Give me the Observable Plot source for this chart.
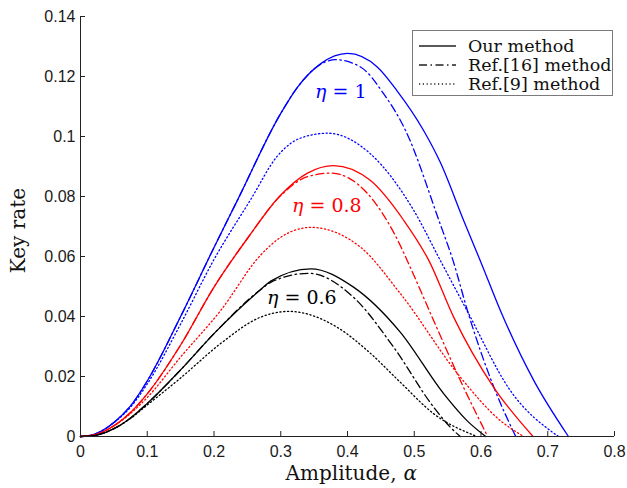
<!DOCTYPE html>
<html>
<head>
<meta charset="utf-8">
<script src="https://cdn.jsdelivr.net/npm/d3@7"></script>
<script src="https://cdn.jsdelivr.net/npm/@observablehq/plot@0.6"></script>
<style>
  body { margin: 0; background: #fff; }
  #wrap { position: relative; width: 627px; height: 488px; }
  #legend { position: absolute; left: 412px; top: 30px; width: 199px; height: 64px;
            border: 1px solid #7a7a7a; background: #fff;
            font-family: "DejaVu Serif", serif; font-size: 17.5px; color: #111; }
  #legend .row { position: absolute; left: 0; height: 20px; display: flex; align-items: center; white-space: nowrap; }
  #legend svg { margin-left: 6px; margin-right: 12px; }
</style>
</head>
<body>
<div id="wrap"><div id="legend"></div></div>
<script>
// ---- data ----
const xTicks = [0, 0.1, 0.2, 0.3, 0.4, 0.5, 0.6, 0.7, 0.8];
const xTickLabels = ["0", "0.1", "0.2", "0.3", "0.4", "0.5", "0.6", "0.7", "0.8"];
const yTicks = [0, 0.02, 0.04, 0.06, 0.08, 0.1, 0.12, 0.14];
const yTickLabels = ["0", "0.02", "0.04", "0.06", "0.08", "0.1", "0.12", "0.14"];

const methods = ["Our method", "Ref.[16] method", "Ref.[9] method"];
const etas = ["1", "0.8", "0.6"];

// eta = 1
const ours_eta1_alpha  = [0, 0.02, 0.05, 0.075, 0.1, 0.15, 0.2, 0.235, 0.3, 0.325, 0.36, 0.4, 0.445, 0.474, 0.514, 0.539, 0.574, 0.6, 0.629, 0.679, 0.731];
const ours_eta1_rate   = [0, 0.0007, 0.0047, 0.0102, 0.0185, 0.040, 0.063, 0.0787, 0.1077, 0.1164, 0.1243, 0.1277, 0.1231, 0.1153, 0.102, 0.0914, 0.072, 0.058, 0.042, 0.0187, 0];
const ref16_eta1_alpha = [0, 0.02, 0.05, 0.075, 0.1, 0.15, 0.2, 0.235, 0.3, 0.325, 0.35, 0.382, 0.42, 0.454, 0.487, 0.537, 0.558, 0.581, 0.62, 0.652];
const ref16_eta1_rate  = [0, 0.0007, 0.0047, 0.0102, 0.0185, 0.040, 0.063, 0.0787, 0.1077, 0.1164, 0.1225, 0.1256, 0.1231, 0.1143, 0.102, 0.072, 0.0587, 0.041, 0.016, 0];
const ref9_eta1_alpha  = [0, 0.02, 0.05, 0.075, 0.1, 0.15, 0.2, 0.255, 0.295, 0.33, 0.37, 0.4345, 0.4994, 0.539, 0.579, 0.644, 0.716];
const ref9_eta1_rate   = [0, 0.0007, 0.0046, 0.0098, 0.0175, 0.0375, 0.059, 0.079, 0.0935, 0.0995, 0.1011, 0.0942, 0.0753, 0.0587, 0.042, 0.0153, 0];

// eta = 0.8
const ours_eta08_alpha  = [0, 0.02, 0.05, 0.075, 0.1, 0.15, 0.2, 0.25, 0.3, 0.34, 0.379, 0.4345, 0.4844, 0.5218, 0.559, 0.619, 0.678];
const ours_eta08_rate   = [0, 0.0005, 0.0036, 0.008, 0.0142, 0.0305, 0.0498, 0.066, 0.0805, 0.0878, 0.0903, 0.0853, 0.072, 0.0587, 0.0398, 0.0164, 0];
const ref16_eta08_alpha = [0, 0.02, 0.05, 0.075, 0.1, 0.15, 0.2, 0.25, 0.3, 0.34, 0.3745, 0.43, 0.479, 0.4894, 0.529, 0.569, 0.61];
const ref16_eta08_rate  = [0, 0.0005, 0.0036, 0.008, 0.0142, 0.0305, 0.0498, 0.066, 0.0803, 0.0866, 0.0878, 0.081, 0.0637, 0.0587, 0.0387, 0.0187, 0];
const ref9_eta08_alpha  = [0, 0.02, 0.05, 0.075, 0.1, 0.15, 0.21, 0.27, 0.3, 0.345, 0.4195, 0.479, 0.569, 0.629, 0.664];
const ref9_eta08_rate   = [0, 0.0005, 0.0035, 0.0077, 0.013, 0.0265, 0.042, 0.0605, 0.0664, 0.0697, 0.0631, 0.0477, 0.0198, 0.0053, 0];

// eta = 0.6
const ours_eta06_alpha  = [0, 0.02, 0.05, 0.075, 0.1, 0.15, 0.2, 0.27, 0.285, 0.345, 0.409, 0.479, 0.544, 0.579, 0.607];
const ours_eta06_rate   = [0, 0.0003, 0.0026, 0.0062, 0.011, 0.0222, 0.0343, 0.049, 0.0518, 0.0559, 0.0498, 0.0348, 0.0143, 0.0053, 0];
const ref16_eta06_alpha = [0, 0.02, 0.05, 0.075, 0.1, 0.15, 0.2, 0.27, 0.285, 0.342, 0.409, 0.469, 0.529, 0.554, 0.569];
const ref16_eta06_rate  = [0, 0.0003, 0.0026, 0.0062, 0.011, 0.0222, 0.0343, 0.049, 0.0514, 0.0544, 0.0464, 0.0298, 0.0098, 0.0031, 0];
const ref9_eta06_alpha  = [0, 0.02, 0.05, 0.075, 0.1, 0.15, 0.21, 0.27, 0.312, 0.3845, 0.4295, 0.479, 0.529, 0.594];
const ref9_eta06_rate   = [0, 0.0003, 0.0026, 0.006, 0.0105, 0.0195, 0.031, 0.0398, 0.0417, 0.0364, 0.0287, 0.0181, 0.0076, 0];

// curve annotations (data coordinates)
const labelEta   = ["1", "0.8", "0.6"];
const labelAlpha = [0.373, 0.3386, 0.301];
const labelRate  = [0.1147, 0.0767, 0.0463];

// ---- styling ----
const etaColor = {"1": "#0000ff", "0.8": "#ff0000", "0.6": "#000000"};
const methodDash = {"Our method": null, "Ref.[16] method": "8,3.5,1.5,3.5", "Ref.[9] method": "1.2,2.6"};

const seriesList = [
  ["Our method", "1", ours_eta1_alpha, ours_eta1_rate],
  ["Ref.[16] method", "1", ref16_eta1_alpha, ref16_eta1_rate],
  ["Ref.[9] method", "1", ref9_eta1_alpha, ref9_eta1_rate],
  ["Our method", "0.8", ours_eta08_alpha, ours_eta08_rate],
  ["Ref.[16] method", "0.8", ref16_eta08_alpha, ref16_eta08_rate],
  ["Ref.[9] method", "0.8", ref9_eta08_alpha, ref9_eta08_rate],
  ["Our method", "0.6", ours_eta06_alpha, ours_eta06_rate],
  ["Ref.[16] method", "0.6", ref16_eta06_alpha, ref16_eta06_rate],
  ["Ref.[9] method", "0.6", ref9_eta06_alpha, ref9_eta06_rate]
];

const lineMarks = seriesList.map(([method, eta, A, R]) =>
  Plot.line(A.map((a, i) => ({alpha: a, rate: R[i]})), {
    x: "alpha", y: "rate",
    stroke: etaColor[eta],
    strokeWidth: 1.3,
    strokeDasharray: methodDash[method] || undefined,
    curve: "monotone-x"
  })
);

const ann = labelEta.map((e, i) => ({eta: e, alpha: labelAlpha[i], rate: labelRate[i]}));
const serif = "DejaVu Serif";
const sans = "Liberation Sans";

const chart = Plot.plot({
  width: 627,
  height: 488,
  marginLeft: 80,
  marginRight: 13,
  marginTop: 16,
  marginBottom: 52,
  style: {background: "white", color: "#1a1a1a", fontFamily: sans, fontSize: "16px"},
  x: {domain: [0, 0.8]},
  y: {domain: [0, 0.14]},
  marks: [
    ...lineMarks,
    Plot.text(ann, {x: "alpha", y: "rate", text: d => "η", textAnchor: "end", dx: -3,
      fill: d => etaColor[d.eta], fontFamily: serif, fontStyle: "italic", fontSize: 19}),
    Plot.text(ann, {x: "alpha", y: "rate", text: d => "= " + d.eta, textAnchor: "start", dx: 3,
      fill: d => etaColor[d.eta], fontFamily: serif, fontSize: 19}),
    Plot.ruleY([0], {stroke: "#222", strokeWidth: 1}),
    Plot.ruleX([0], {stroke: "#222", strokeWidth: 1}),
    Plot.axisX(xTicks, {tickSize: -5, tickPadding: 14, label: null,
      tickFormat: d => xTickLabels[xTicks.indexOf(d)], fontSize: 16, fontFamily: sans, stroke: "#222"}),
    Plot.axisY(yTicks, {tickSize: -5, tickPadding: 10, label: null,
      tickFormat: d => yTickLabels[yTicks.indexOf(d)], fontSize: 16, fontFamily: sans, stroke: "#222"}),
    Plot.text(["Key rate"], {frameAnchor: "left", rotate: -90, dx: -62, dy: 4,
      textAnchor: "middle", lineAnchor: "middle",
      fontFamily: serif, fontSize: 20, fill: "#111"}),
    Plot.text(["Amplitude,"], {frameAnchor: "bottom", textAnchor: "end", lineAnchor: "middle", dx: 49, dy: 37,
      fontFamily: serif, fontSize: 20, fill: "#111"}),
    Plot.text(["α"], {frameAnchor: "bottom", textAnchor: "start", lineAnchor: "middle", dx: 56, dy: 37,
      fontFamily: serif, fontStyle: "italic", fontSize: 20, fill: "#111"})
  ]
});

const wrap = document.getElementById("wrap");
wrap.insertBefore(chart, wrap.firstChild);

// legend
const legend = document.getElementById("legend");
methods.forEach((m, i) => {
  const row = document.createElement("div");
  row.className = "row";
  row.style.top = (5 + i * 19) + "px";
  const dash = methodDash[m];
  row.innerHTML = `<svg width="37" height="10"><line x1="0" x2="37" y1="5" y2="5" stroke="#222" stroke-width="1.3" ${dash ? `stroke-dasharray="${dash}"` : ""}/></svg><span>${m}</span>`;
  legend.appendChild(row);
});
</script>
</body>
</html>
